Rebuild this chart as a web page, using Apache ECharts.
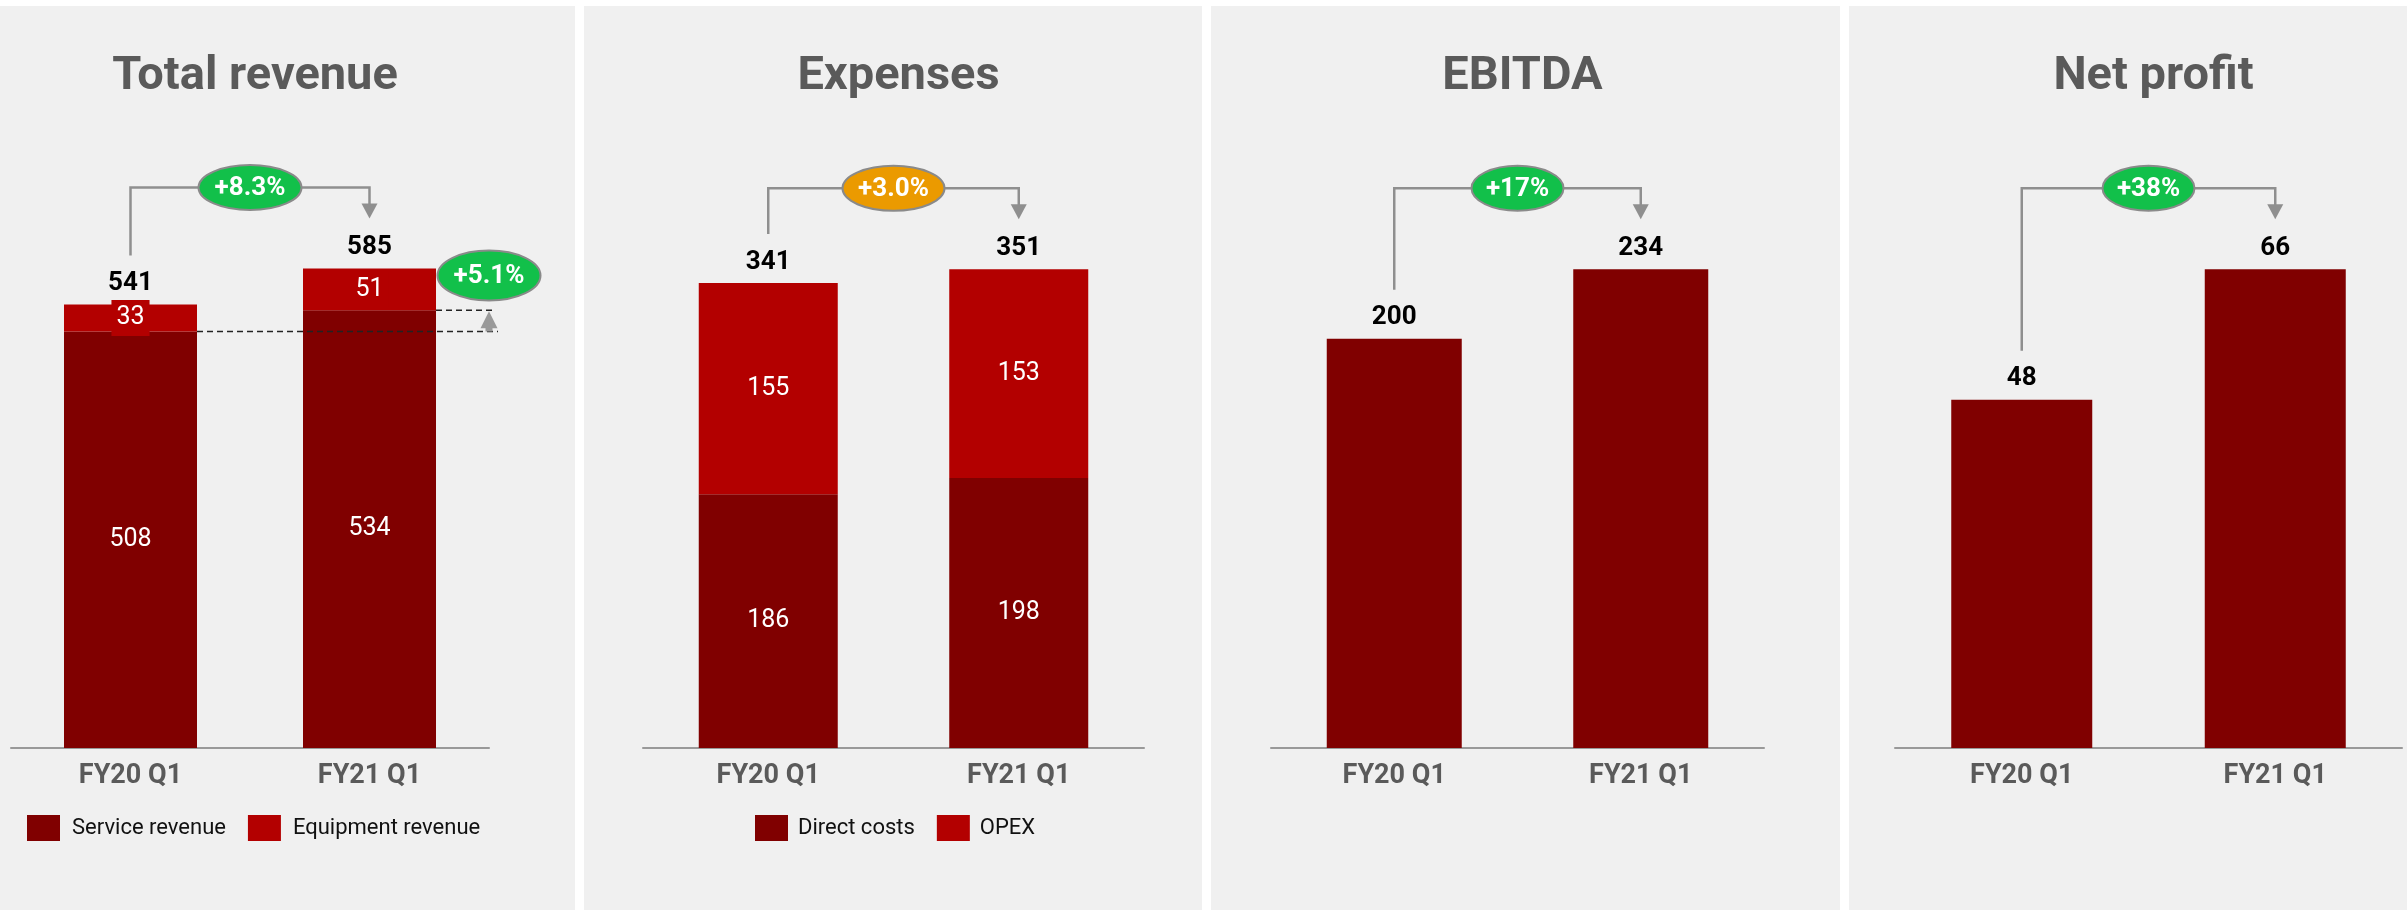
<!DOCTYPE html>
<html>
<head>
<meta charset="utf-8">
<script src="https://cdn.jsdelivr.net/npm/echarts@6/dist/echarts.min.js"></script>
<style>
  html, body { margin: 0; padding: 0; background: #fff; }
  #main { width: 2407px; height: 910px; }
</style>
</head>
<body>
<div id="main"></div>
<script>
// data
const categories = ['FY20 Q1', 'FY21 Q1']
const serviceRevenue = [508, 534]
const equipmentRevenue = [33, 51]
const directCosts = [186, 198]
const opex = [155, 153]
const ebitda = [200, 234]
const netProfit = [48, 66]
const panelTitles = ['Total revenue', 'Expenses', 'EBITDA', 'Net profit']
const growthLabels = ['+8.3%', '+3.0%', '+17%', '+38%']
const serviceGrowthLabel = '+5.1%'

const revenueTotal = serviceRevenue.map((v, i) => v + equipmentRevenue[i])
const expenseTotal = directCosts.map((v, i) => v + opex[i])
const panelTotals = [revenueTotal, expenseTotal, ebitda, netProfit]

// layout
const DARK = '#800000'
const RED = '#b30000'
const FONT = 'Roboto, "Noto Sans", sans-serif'
const gridLefts = [11, 643, 1271, 1895]
const gridWidths = [478, 501, 493, 507]
const barWidths = [133, 139, 135, 141]
const yMax = [732, 440, 293.3, 82.7]
const panelEdges = [[0, 575], [584, 1202], [1211, 1840], [1849, 2407]]
const growthColors = ['#12c04a', '#eb9a00', '#12c04a', '#12c04a']
const growthRx = [51.5, 51, 46, 46]

const chart = echarts.init(document.getElementById('main'))

const segLabel = {
  show: true,
  position: 'inside',
  color: '#fff',
  fontSize: 25,
  fontFamily: FONT
}
const totalLabel = (totals) => ({
  show: true,
  position: 'top',
  distance: 8,
  color: '#000',
  fontSize: 26,
  fontWeight: 'bold',
  fontFamily: FONT,
  formatter: p => totals[p.dataIndex]
})

const option = {
  animation: false,
  backgroundColor: '#fff',
  textStyle: { fontFamily: FONT },
  title: panelTitles.map((t, i) => ({
    text: t,
    left: gridLefts[i] + gridWidths[i] / 2,
    top: 49,
    textAlign: 'center',
    textStyle: { fontSize: 47, fontWeight: 'bold', color: '#5a5a5a', fontFamily: FONT }
  })),
  legend: [
    {
      data: ['Service revenue', 'Equipment revenue'],
      left: 27,
      top: 815,
      padding: 0,
      itemWidth: 33,
      itemHeight: 26,
      itemGap: 22,
      icon: 'rect',
      textStyle: { fontSize: 22, color: '#111', padding: [0, 0, 0, 7] }
    },
    {
      data: ['Direct costs', 'OPEX'],
      left: 755,
      top: 815,
      padding: 0,
      itemWidth: 33,
      itemHeight: 26,
      itemGap: 22,
      icon: 'rect',
      textStyle: { fontSize: 22, color: '#111', padding: [0, 0, 0, 5] }
    }
  ],
  grid: gridLefts.map((l, i) => ({ left: l, width: gridWidths[i], top: 148, bottom: 162 })),
  xAxis: gridLefts.map((l, i) => ({
    type: 'category',
    gridIndex: i,
    data: categories,
    axisLine: { lineStyle: { color: '#999', width: 2 } },
    axisTick: { show: false },
    axisLabel: { fontSize: 27, fontWeight: 'bold', color: '#5a5a5a', margin: 15 }
  })),
  yAxis: gridLefts.map((l, i) => ({
    type: 'value',
    gridIndex: i,
    min: 0,
    max: yMax[i],
    show: false,
    splitLine: { show: false }
  })),
  series: [
    {
      name: 'Service revenue', type: 'bar', stack: 'rev', xAxisIndex: 0, yAxisIndex: 0,
      barWidth: barWidths[0], data: serviceRevenue, itemStyle: { color: DARK }, label: segLabel
    },
    {
      name: 'Equipment revenue', type: 'bar', stack: 'rev', xAxisIndex: 0, yAxisIndex: 0,
      barWidth: barWidths[0], data: equipmentRevenue, itemStyle: { color: RED },
      label: Object.assign({}, segLabel, { backgroundColor: RED, padding: [6, 5, 5, 5] })
    },
    {
      name: 'revTotal', type: 'bar', stack: 'rev', xAxisIndex: 0, yAxisIndex: 0,
      barWidth: barWidths[0], data: [0, 0], itemStyle: { color: 'transparent' }, label: totalLabel(revenueTotal)
    },
    {
      name: 'Direct costs', type: 'bar', stack: 'exp', xAxisIndex: 1, yAxisIndex: 1,
      barWidth: barWidths[1], data: directCosts, itemStyle: { color: DARK }, label: segLabel
    },
    {
      name: 'OPEX', type: 'bar', stack: 'exp', xAxisIndex: 1, yAxisIndex: 1,
      barWidth: barWidths[1], data: opex, itemStyle: { color: RED }, label: segLabel
    },
    {
      name: 'expTotal', type: 'bar', stack: 'exp', xAxisIndex: 1, yAxisIndex: 1,
      barWidth: barWidths[1], data: [0, 0], itemStyle: { color: 'transparent' }, label: totalLabel(expenseTotal)
    },
    {
      name: 'EBITDA', type: 'bar', xAxisIndex: 2, yAxisIndex: 2,
      barWidth: barWidths[2], data: ebitda, itemStyle: { color: DARK }, label: totalLabel(ebitda)
    },
    {
      name: 'Net profit', type: 'bar', xAxisIndex: 3, yAxisIndex: 3,
      barWidth: barWidths[3], data: netProfit, itemStyle: { color: DARK }, label: totalLabel(netProfit)
    }
  ],
  graphic: panelEdges.map(e => ({
    type: 'rect',
    z: -10,
    silent: true,
    shape: { x: e[0], y: 6, width: e[1] - e[0], height: 904 },
    style: { fill: '#f0f0f0' }
  }))
}
chart.setOption(option)

// growth annotations, placed from the bar positions
const GREY = '#8f8f8f'
const annot = []
panelTotals.forEach((totals, i) => {
  const p1 = chart.convertToPixel({ gridIndex: i }, [0, totals[0]])
  const p2 = chart.convertToPixel({ gridIndex: i }, [1, totals[1]])
  const lineY = Math.min(p1[1], p2[1]) - 81
  const tipY = p2[1] - 50
  const cx = (p1[0] + p2[0]) / 2
  annot.push({
    type: 'polyline', z: 9, silent: true,
    shape: { points: [[p1[0], p1[1] - 49], [p1[0], lineY], [p2[0], lineY], [p2[0], tipY - 14]] },
    style: { stroke: GREY, lineWidth: 2.5, fill: null }
  })
  annot.push({
    type: 'polygon', z: 9, silent: true,
    shape: { points: [[p2[0] - 8, tipY - 15], [p2[0] + 8, tipY - 15], [p2[0], tipY]] },
    style: { fill: GREY }
  })
  annot.push({
    type: 'ellipse', z: 10, silent: true,
    shape: { cx: cx, cy: lineY, rx: growthRx[i], ry: 22.5 },
    style: { fill: growthColors[i], stroke: '#8a8a8a', lineWidth: 2 }
  })
  annot.push({
    type: 'text', z: 11, silent: true, x: cx, y: lineY + 1,
    style: { text: growthLabels[i], fill: '#fff', font: 'bold 26px ' + FONT, align: 'center', verticalAlign: 'middle' }
  })
})

// service revenue growth marker on the first panel
const s1 = chart.convertToPixel({ gridIndex: 0 }, [0, serviceRevenue[0]])
const s2 = chart.convertToPixel({ gridIndex: 0 }, [1, serviceRevenue[1]])
const t2 = chart.convertToPixel({ gridIndex: 0 }, [1, revenueTotal[1]])
const rightX = gridLefts[0] + gridWidths[0]
annot.push({
  type: 'line', z: 9, silent: true,
  shape: { x1: s1[0] + barWidths[0] / 2, y1: s1[1], x2: rightX + 9, y2: s1[1] },
  style: { stroke: '#222', lineWidth: 1.5, lineDash: [6, 4] }
})
annot.push({
  type: 'line', z: 9, silent: true,
  shape: { x1: s2[0] + barWidths[0] / 2, y1: s2[1], x2: rightX + 7, y2: s2[1] },
  style: { stroke: '#222', lineWidth: 1.5, lineDash: [6, 4] }
})
annot.push({
  type: 'polygon', z: 10, silent: true,
  shape: {
    points: [
      [rightX, s2[1] + 1], [rightX + 8.5, s2[1] + 18], [rightX + 3.5, s2[1] + 18], [rightX + 3.5, s1[1]],
      [rightX - 3.5, s1[1]], [rightX - 3.5, s2[1] + 18], [rightX - 8.5, s2[1] + 18]
    ]
  },
  style: { fill: '#999' }
})
annot.push({
  type: 'ellipse', z: 10, silent: true,
  shape: { cx: rightX, cy: t2[1] + 7, rx: 51.5, ry: 25 },
  style: { fill: growthColors[0], stroke: '#8a8a8a', lineWidth: 2 }
})
annot.push({
  type: 'text', z: 11, silent: true, x: rightX, y: t2[1] + 8,
  style: { text: serviceGrowthLabel, fill: '#fff', font: 'bold 26px ' + FONT, align: 'center', verticalAlign: 'middle' }
})

chart.setOption({ graphic: option.graphic.concat(annot) })
</script>
</body>
</html>
